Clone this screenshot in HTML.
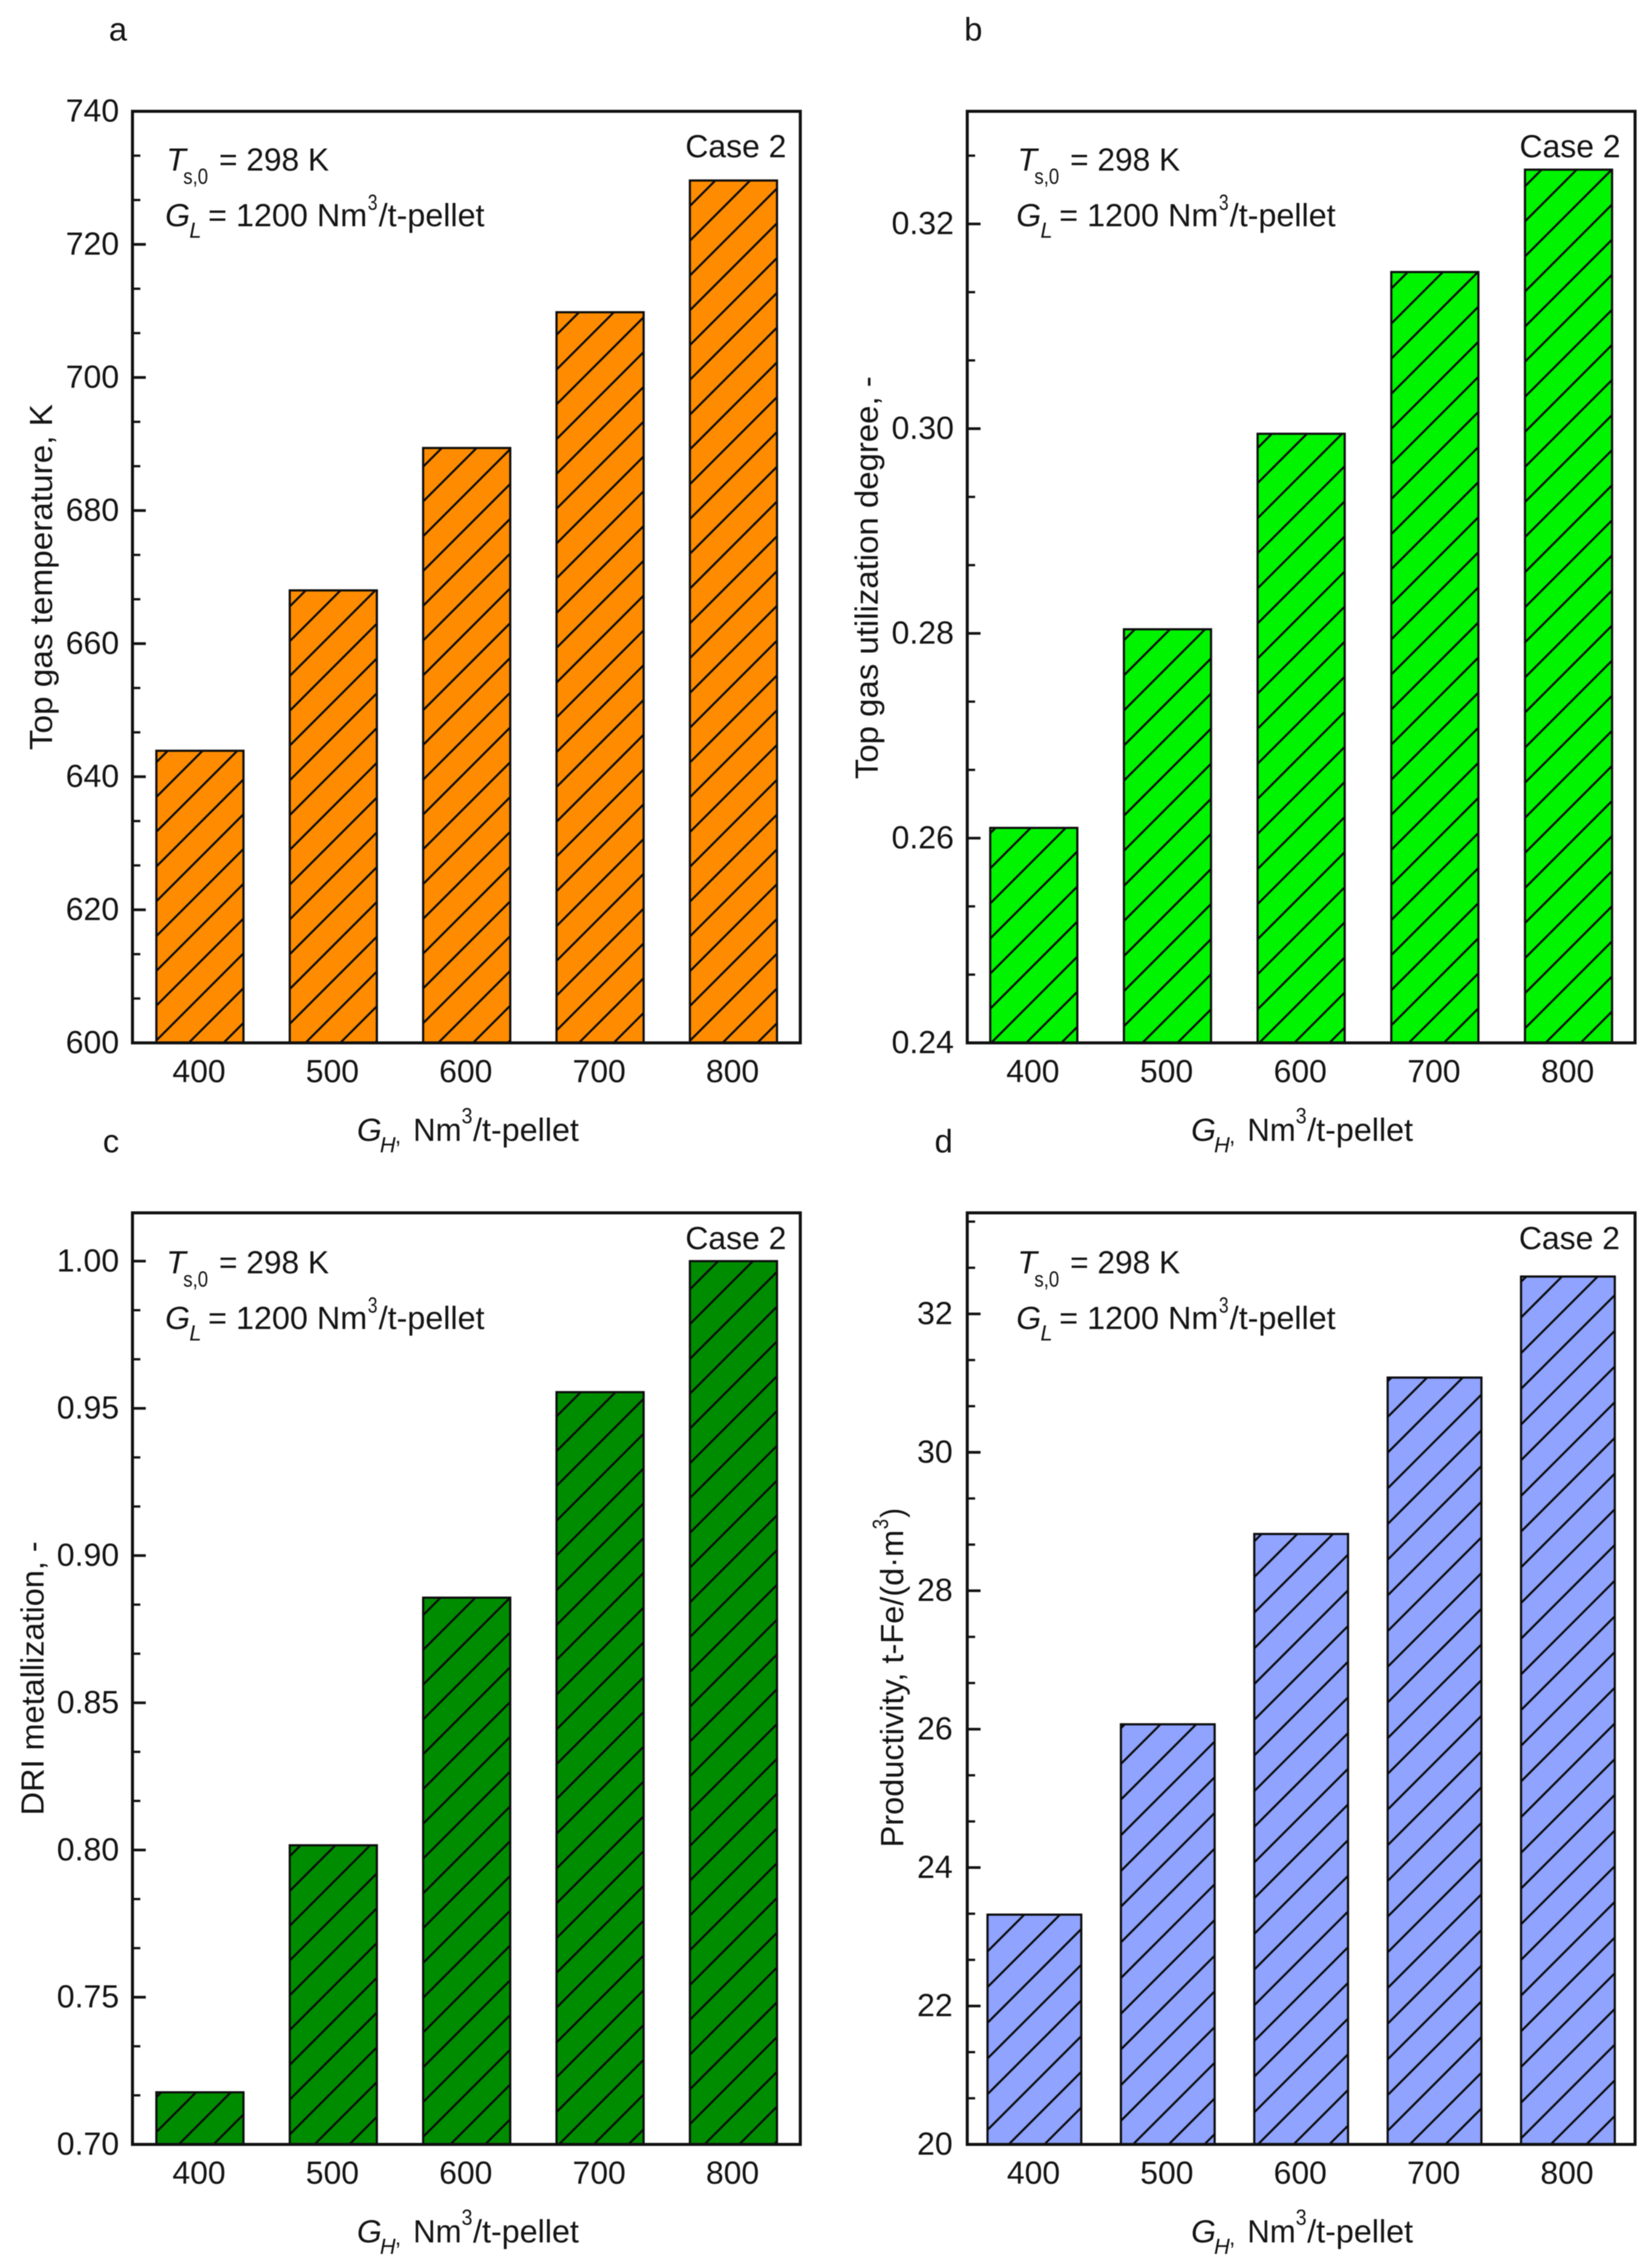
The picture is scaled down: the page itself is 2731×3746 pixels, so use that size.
<!DOCTYPE html>
<html lang="en">
<head>
<meta charset="utf-8">
<title>Top gas and DRI results for Case 2</title>
<style>
html,body{margin:0;padding:0;background:#fff;}
svg{display:block;filter:blur(0.9px);}
text{font-family:"Liberation Sans",sans-serif;fill:#141414;}
</style>
</head>
<body>
<svg id="figure" xmlns="http://www.w3.org/2000/svg" width="2731" height="3746" viewBox="0 0 2731 3746">
<rect x="0" y="0" width="2731" height="3746" fill="#fff"/>
</svg>
<script>
const categories = [400, 500, 600, 700, 800];
const temperatureValues = [643.9, 668, 689.4, 709.8, 729.6];
const utilizationValues = [0.261, 0.2804, 0.2995, 0.3153, 0.3253];
const metallizationValues = [0.7177, 0.8016, 0.8857, 0.9555, 1.0];
const productivityValues = [23.32, 26.07, 28.82, 31.08, 32.54];
const temperatureTickLabels = ['600', '620', '640', '660', '680', '700', '720', '740'];
const utilizationTickLabels = ['0.24', '0.26', '0.28', '0.30', '0.32'];
const metallizationTickLabels = ['0.70', '0.75', '0.80', '0.85', '0.90', '0.95', '1.00'];
const productivityTickLabels = ['20', '22', '24', '26', '28', '30', '32'];

const NS = 'http://www.w3.org/2000/svg';
const svg = document.getElementById('figure');

function node(parent, tag, attrs, content) {
  const el = document.createElementNS(NS, tag);
  for (const k in attrs) el.setAttribute(k, attrs[k]);
  if (content !== undefined) el.textContent = content;
  parent.appendChild(el);
  return el;
}

function fitted(parent, str, x, y, size, width, style) {
  const attrs = {x: x, y: y, 'font-size': size};
  if (width) { attrs.textLength = width; attrs.lengthAdjust = 'spacingAndGlyphs'; }
  if (style) attrs['font-style'] = style;
  return node(parent, 'text', attrs, str);
}

function drawPanel(cfg) {
  const g = node(svg, 'g', {});
  
  

  const yScale = v => cfg.bottom - (v - cfg.yMin) / (cfg.yMax - cfg.yMin) * (cfg.bottom - cfg.top);
  const xScale = c => cfg.firstCenter + (c - categories[0]) / 100 * cfg.pitch;

  const barSpacing = cfg.hatchSpacing;
  cfg.values.forEach((value, i) => {
    const cx = xScale(categories[i]);
    const left = cx - cfg.barWidth / 2;
    const top = yScale(value);
    const height = cfg.bottom - top;
    const clipId = 'clip-' + cfg.letter + '-' + i;
    const clip = node(svg, 'clipPath', {id: clipId});
    node(clip, 'rect', {x: left, y: top, width: cfg.barWidth, height: height});

    const bar = node(g, 'rect', {x: left, y: top, width: cfg.barWidth, height: height, fill: cfg.color});
    
    

    let d = '';
    const reach = height + cfg.barWidth;
    for (let k = -Math.ceil(reach / barSpacing) - 1; k <= 4; k++) {
      const sx = left + cfg.hatchPhase[i] + k * barSpacing;
      d += 'M' + sx + ' ' + cfg.bottom + 'L' + (sx + reach + barSpacing) + ' ' + (cfg.bottom - reach - barSpacing);
    }
    const hatch = node(g, 'path', {d: d, stroke: '#0c0c0c', 'stroke-width': 3.5, fill: 'none', 'clip-path': 'url(#' + clipId + ')'});
    
    

    const outline = node(g, 'rect', {x: left, y: top, width: cfg.barWidth, height: height, fill: 'none', stroke: '#0c0c0c', 'stroke-width': 3.6});
    
    

    const tickLabel = fitted(g, String(categories[i]), cx - 1.5 - 44, cfg.bottom + 65, 53, 88);
    
    
  });

  const frame = node(g, 'rect', {x: cfg.left, y: cfg.top, width: cfg.right - cfg.left, height: cfg.bottom - cfg.top, fill: 'none', stroke: '#111', 'stroke-width': 5});
  
  

  const tickValues = cfg.tickLabels.map(Number);
  const step = tickValues[1] - tickValues[0];
  cfg.tickLabels.forEach((label, i) => {
    const y = yScale(tickValues[i]);
    const tick = node(g, 'line', {x1: cfg.left, x2: cfg.left + 22, y1: y, y2: y, stroke: '#111', 'stroke-width': 4.4});
    
    
    const t = node(g, 'text', {x: cfg.tickRight, y: y + 17, 'font-size': 53, 'text-anchor': 'end'}, label);
    
    
    for (let m = 1; m <= 2; m++) {
      const mv = tickValues[i] + m * step / 3;
      if (mv >= cfg.yMax) continue;
      const my = yScale(mv);
      const minor = node(g, 'line', {x1: cfg.left, x2: cfg.left + 13, y1: my, y2: my, stroke: '#111', 'stroke-width': 3.8});
      
      
    }
  });

  const dx = cfg.annotationX - 275;
  const dy = cfg.annotationY - 282;
  const note = node(g, 'g', {});
  
  
  fitted(note, 'T', 275 + dx, 282 + dy, 53, 0, 'italic');
  fitted(note, 's,0', 303 + dx, 304 + dy, 36, 41);
  fitted(note, '= 298 K', 362 + dx, 282 + dy, 53, 182);
  fitted(note, 'G', 273 + dx, 374 + dy, 53, 0, 'italic');
  fitted(note, 'L', 313 + dx, 393 + dy, 36, 0, 'italic');
  fitted(note, '= 1200 Nm', 344 + dx, 374 + dy, 53, 263);
  fitted(note, '3', 608 + dx, 347 + dy, 36, 16);
  fitted(note, '/t-pellet', 626 + dx, 374 + dy, 53, 175);

  const caseLabel = fitted(g, 'Case 2', cfg.caseX, cfg.caseY, 53, 167);
  
  

  const letter = node(g, 'text', {x: cfg.letterX, y: cfg.letterY, 'font-size': 54}, cfg.letter);
  
  

  const xt = node(g, 'g', {});
  
  
  const xb = cfg.bottom + 162;
  fitted(xt, 'G', cfg.xTitleX, xb, 53, 0, 'italic');
  fitted(xt, 'H', cfg.xTitleX + 38, xb + 19, 36, 0, 'italic');
  fitted(xt, ',', cfg.xTitleX + 63, xb + 4, 36);
  fitted(xt, 'Nm', cfg.xTitleX + 93, xb, 53, 80);
  fitted(xt, '3', cfg.xTitleX + 173, xb - 29, 36, 18);
  fitted(xt, '/t-pellet', cfg.xTitleX + 192, xb, 53, 175);

  const yt = node(g, 'g', {});
  
  
  cfg.yTitle.forEach(part => {
    const r = node(yt, 'text', {transform: 'translate(' + part[1] + ',' + part[2] + ') rotate(-90)', 'font-size': part[3], textLength: part[4], lengthAdjust: 'spacingAndGlyphs'}, part[0]);
    
    
  });
}

drawPanel({letter: 'a', values: temperatureValues, tickLabels: temperatureTickLabels, color: '#ff8c00',
  left: 219, right: 1323, top: 184, bottom: 1724, yMin: 600, yMax: 740, firstCenter: 330.5, pitch: 220.5, barWidth: 144,
  hatchSpacing: 57.5, hatchPhase: [53.5, 26, 25, 37, 54], tickRight: 197, annotationX: 275, annotationY: 282,
  caseX: 1133, caseY: 260, letterX: 180, letterY: 67, xTitleX: 590,
  yTitle: [['Top gas temperature, K', 86, 1240, 53, 572]]});

drawPanel({letter: 'b', values: utilizationValues, tickLabels: utilizationTickLabels, color: '#00f400',
  left: 1599, right: 2703, top: 184, bottom: 1724, yMin: 0.24, yMax: 0.331, firstCenter: 1709, pitch: 221, barWidth: 144,
  hatchSpacing: 58, hatchPhase: [1.5, 30.5, 2.7, 29, 34], tickRight: 1577, annotationX: 1682, annotationY: 282,
  caseX: 2512, caseY: 260, letterX: 1594, letterY: 67, xTitleX: 1969,
  yTitle: [['Top gas utilization degree, -', 1451, 1288, 53, 666]]});

drawPanel({letter: 'c', values: metallizationValues, tickLabels: metallizationTickLabels, color: '#008c00',
  left: 219, right: 1323, top: 2005, bottom: 3545, yMin: 0.70, yMax: 1.0164, firstCenter: 330.5, pitch: 220.5, barWidth: 144,
  hatchSpacing: 57.5, hatchPhase: [37, 41, 45, 4, 24], tickRight: 197, annotationX: 275, annotationY: 2105,
  caseX: 1133, caseY: 2065, letterX: 170, letterY: 1905, xTitleX: 590,
  yTitle: [['DRI metallization, -', 72, 3001, 53, 453]]});

drawPanel({letter: 'd', values: productivityValues, tickLabels: productivityTickLabels, color: '#8fa3ff',
  left: 1599, right: 2703, top: 2005, bottom: 3545, yMin: 20, yMax: 33.46, firstCenter: 1710, pitch: 220.5, barWidth: 155,
  hatchSpacing: 59, hatchPhase: [35, 20, 6, 36.5, 49], tickRight: 1575, annotationX: 1682, annotationY: 2105,
  caseX: 2511, caseY: 2065, letterX: 1545, letterY: 1905, xTitleX: 1969,
  yTitle: [['Productivity, t-Fe/(d\u00b7m', 1493, 3054, 53, 525], ['3', 1468, 2528, 36, 17], [')', 1493, 2509, 53, 16]]});
</script>
</body>
</html>
